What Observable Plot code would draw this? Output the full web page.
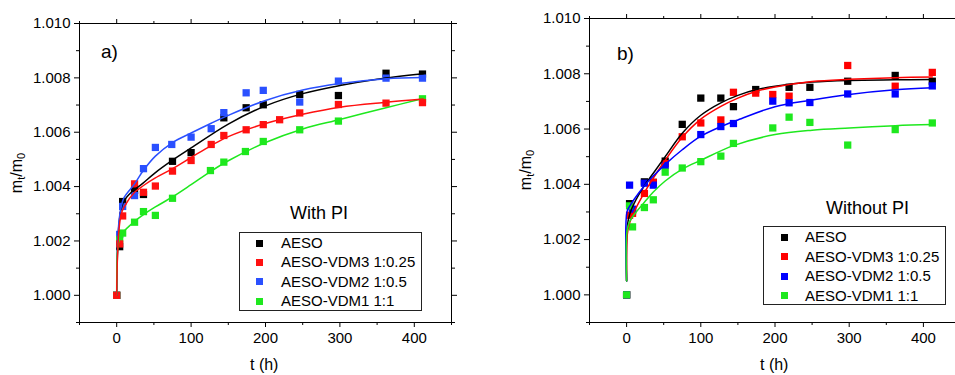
<!DOCTYPE html>
<html><head><meta charset="utf-8">
<script src="https://cdn.jsdelivr.net/npm/d3@7"></script>
<script src="https://cdn.jsdelivr.net/npm/@observablehq/plot@0.6"></script>
<style>
body{margin:0;width:955px;height:375px;overflow:hidden;position:relative;background:#fff;font-family:"Liberation Sans",Arial,sans-serif;color:#000;}
.panel{position:absolute;top:0;width:480px;height:375px;}
.t{position:absolute;white-space:nowrap;line-height:1;}
.ylab{position:absolute;white-space:nowrap;font-size:16px;transform:translate(-50%,-50%) rotate(-90deg);line-height:1;}
.ylab sub{font-size:11px;vertical-align:-3px;}
.legend{position:absolute;border:1px solid #222;box-sizing:border-box;background:#fff;}
.row{position:absolute;left:0;font-size:15px;line-height:1;white-space:nowrap;}
.sq{position:absolute;width:7px;height:7px;}
</style></head><body>
<div id="A" class="panel" style="left:0"></div>
<div id="B" class="panel" style="left:480px"></div>
<script>
// ---------- shared ----------
const seriesNames = ["AESO", "AESO-VDM3 1:0.25", "AESO-VDM2 1:0.5", "AESO-VDM1 1:1"];
const xMajor = [0, 100, 200, 300, 400];
const xMinor = [-50, 50, 150, 250, 350, 450];
const yMajor = [1.000, 1.002, 1.004, 1.006, 1.008, 1.010];
const yMinor = [0.999, 1.001, 1.003, 1.005, 1.007, 1.009];

// ---------- panel a) With PI : measured points ----------
const a_AESO_t = [0, 4, 8, 24, 36, 75, 100, 144, 174, 197, 246, 298, 362, 411];
const a_AESO_v = [1.00000, 1.00179, 1.00345, 1.00386, 1.00371, 1.00493, 1.00525, 1.00653, 1.00690, 1.00701, 1.00739, 1.00735, 1.00817, 1.00814];
const a_VDM3_t = [0, 4, 8, 24, 36, 52, 75, 100, 127, 144, 174, 197, 219, 246, 298, 362, 411];
const a_VDM3_v = [1.00000, 1.00189, 1.00292, 1.00410, 1.00379, 1.00402, 1.00457, 1.00496, 1.00555, 1.00588, 1.00609, 1.00628, 1.00646, 1.00671, 1.00702, 1.00707, 1.00709];
const a_VDM2_t = [0, 4, 8, 24, 36, 52, 74, 100, 127, 144, 174, 197, 246, 298, 362, 411];
const a_VDM2_v = [1.00000, 1.00224, 1.00327, 1.00367, 1.00466, 1.00544, 1.00555, 1.00582, 1.00613, 1.00672, 1.00745, 1.00754, 1.00711, 1.00788, 1.00799, 1.00799];
const a_VDM1_t = [0, 4, 8, 24, 36, 52, 75, 126, 144, 173, 197, 246, 298, 411];
const a_VDM1_v = [1.00000, 1.00205, 1.00229, 1.00269, 1.00308, 1.00294, 1.00357, 1.00459, 1.00490, 1.00529, 1.00566, 1.00609, 1.00641, 1.00723];

// ---------- panel a) fitted curves (read off the picture) ----------
const a_fit_AESO_t = [0, 1, 3, 6, 10, 20, 35, 50, 75, 100, 150, 200, 250, 300, 350, 412];
const a_fit_AESO_v = [1.0000, 1.00150, 1.00260, 1.00318, 1.00348, 1.00380, 1.00412, 1.00447, 1.00497, 1.00542, 1.00630, 1.00697, 1.00742, 1.00772, 1.00795, 1.00815];
const a_fit_VDM3_t = [0, 1, 3, 6, 10, 24, 36, 52, 75, 100, 127, 150, 200, 250, 300, 362, 412];
const a_fit_VDM3_v = [1.0000, 1.00140, 1.00240, 1.00298, 1.00325, 1.00379, 1.00404, 1.00432, 1.00466, 1.00507, 1.00551, 1.00584, 1.00632, 1.00666, 1.00692, 1.00710, 1.00722];
const a_fit_VDM2_t = [0, 1, 3, 6, 10, 24, 36, 52, 75, 100, 127, 150, 200, 250, 300, 362, 412];
const a_fit_VDM2_v = [1.0000, 1.00170, 1.00270, 1.00325, 1.00360, 1.00410, 1.00460, 1.00512, 1.00562, 1.00597, 1.00633, 1.00662, 1.00717, 1.00755, 1.00779, 1.00797, 1.00801];
const a_fit_VDM1_t = [0, 1, 3, 8, 24, 36, 52, 75, 100, 127, 150, 200, 250, 300, 362, 412];
const a_fit_VDM1_v = [1.0000, 1.00160, 1.00200, 1.00230, 1.00272, 1.00297, 1.00325, 1.00362, 1.00407, 1.00457, 1.00495, 1.00562, 1.00612, 1.00647, 1.00690, 1.00724];

// ---------- panel b) Without PI : measured points ----------
const b_AESO_t = [0, 4, 8, 24, 36, 52, 75, 100, 127, 144, 174, 219, 247, 298, 362, 412];
const b_AESO_v = [1.00000, 1.00330, 1.00305, 1.00409, 1.00407, 1.00484, 1.00617, 1.00712, 1.00712, 1.00681, 1.00743, 1.00751, 1.00751, 1.00773, 1.00794, 1.00773];
const b_VDM3_t = [0, 4, 8, 24, 36, 52, 75, 100, 127, 144, 174, 197, 219, 298, 362, 412];
const b_VDM3_v = [1.00000, 1.00288, 1.00295, 1.00367, 1.00407, 1.00475, 1.00572, 1.00622, 1.00633, 1.00733, 1.00730, 1.00725, 1.00719, 1.00830, 1.00755, 1.00805];
const b_VDM2_t = [0, 4, 8, 24, 36, 52, 100, 127, 144, 197, 219, 247, 298, 362, 412];
const b_VDM2_v = [1.00000, 1.00397, 1.00310, 1.00404, 1.00397, 1.00468, 1.00580, 1.00609, 1.00620, 1.00701, 1.00695, 1.00696, 1.00727, 1.00727, 1.00756];
const b_VDM1_t = [0, 4, 8, 24, 36, 52, 75, 100, 127, 144, 197, 219, 247, 298, 362, 412];
const b_VDM1_v = [1.00000, 1.00322, 1.00246, 1.00316, 1.00344, 1.00444, 1.00459, 1.00482, 1.00502, 1.00548, 1.00604, 1.00643, 1.00624, 1.00542, 1.00598, 1.00622];

// ---------- panel b) fitted curves (read off the picture) ----------
const b_fit_AESO_t = [0, 1, 4, 10, 24, 36, 52, 75, 100, 127, 150, 174, 200, 250, 300, 362, 412];
const b_fit_AESO_v = [1.0005, 1.00250, 1.00290, 1.00330, 1.00395, 1.00440, 1.00500, 1.00585, 1.00650, 1.00695, 1.00722, 1.00742, 1.00755, 1.00770, 1.00776, 1.00778, 1.00779];
const b_fit_VDM3_t = [0, 1, 4, 10, 24, 36, 52, 75, 100, 127, 150, 174, 200, 250, 300, 362, 412];
const b_fit_VDM3_v = [1.0005, 1.00220, 1.00260, 1.00300, 1.00370, 1.00422, 1.00487, 1.00570, 1.00636, 1.00682, 1.00712, 1.00736, 1.00752, 1.00772, 1.00780, 1.00786, 1.00788];
const b_fit_VDM2_t = [0, 0.5, 4, 10, 24, 36, 52, 75, 100, 127, 150, 200, 250, 300, 362, 412];
const b_fit_VDM2_v = [1.0005, 1.00300, 1.00320, 1.00345, 1.00395, 1.00430, 1.00472, 1.00525, 1.00574, 1.00609, 1.00633, 1.00681, 1.00705, 1.00725, 1.00742, 1.00749];
const b_fit_VDM1_t = [0, 0.5, 4, 10, 24, 36, 52, 75, 100, 144, 200, 250, 300, 362, 412];
const b_fit_VDM1_v = [1.0005, 1.00230, 1.00265, 1.00290, 1.00335, 1.00372, 1.00412, 1.00455, 1.00487, 1.00540, 1.00580, 1.00596, 1.00604, 1.00612, 1.00616];

// ---------- colours ----------
const colorsA = ["#000000", "#ff1010", "#2a50ff", "#1ee81e"];
const colorsB = ["#000000", "#ff0000", "#0000ff", "#1ee81e"];

function rows(ts, vs, s) { return ts.map((t, i) => ({t, v: vs[i], s})); }

function makePanel(cfg) {
  const pts = cfg.points.map(([ts, vs], i) => rows(ts, vs, seriesNames[i]));
  const fits = cfg.fits.map(([ts, vs], i) => rows(ts, vs, seriesNames[i]));
  const noLabel = () => "";
  const marks = [
    Plot.axisX({anchor: "bottom", ticks: xMajor, tickSize: 5, tickPadding: 5, tickFormat: d => String(d), label: null}),
    Plot.axisX({anchor: "bottom", ticks: xMinor, tickSize: 3, tickFormat: noLabel, label: null}),
    Plot.axisX({anchor: "top", ticks: xMajor, tickSize: 5, tickFormat: noLabel, label: null}),
    Plot.axisX({anchor: "top", ticks: xMinor, tickSize: 3, tickFormat: noLabel, label: null}),
    Plot.axisY({anchor: "left", ticks: yMajor, tickSize: 5, tickPadding: 4, tickFormat: d3.format(".3f"), label: null}),
    Plot.axisY({anchor: "left", ticks: yMinor, tickSize: 3, tickFormat: noLabel, label: null}),
    Plot.axisY({anchor: "right", ticks: yMajor, tickSize: 5, tickFormat: noLabel, label: null}),
    Plot.axisY({anchor: "right", ticks: yMinor, tickSize: 3, tickFormat: noLabel, label: null}),
    Plot.frame({stroke: "black", strokeWidth: 1})
  ];
  cfg.order.forEach(i => {
    marks.push(Plot.dot(pts[i], {x: "t", y: "v", symbol: "square", r: 4.1, fill: cfg.colors[i], stroke: "none"}));
  });
  cfg.order.forEach(i => {
    marks.push(Plot.line(fits[i], {x: "t", y: "v", stroke: cfg.colors[i], strokeWidth: 1.5, curve: "catmull-rom"}));
  });
  return Plot.plot({
    width: 480, height: 375,
    marginLeft: cfg.ml, marginRight: cfg.mr, marginTop: cfg.mt, marginBottom: cfg.mb,
    x: {domain: [-50, 450]},
    y: {domain: [0.999, 1.010]},
    style: {fontFamily: "'Liberation Sans', Arial, sans-serif", fontSize: "15px", color: "#000", background: "transparent", overflow: "visible"},
    marks
  });
}

function addText(host, html, left, top, size, cls) {
  const d = document.createElement("div");
  d.className = cls || "t";
  d.innerHTML = html;
  d.style.left = left + "px";
  d.style.top = top + "px";
  if (size) d.style.fontSize = size + "px";
  host.appendChild(d);
  return d;
}

function addLegend(host, box, colors) {
  const lg = document.createElement("div");
  lg.className = "legend";
  Object.assign(lg.style, {left: box.x + "px", top: box.y + "px", width: box.w + "px", height: box.h + "px"});
  seriesNames.forEach((name, i) => {
    const cy = box.row0 + i * box.dy;
    const sq = document.createElement("div");
    sq.className = "sq";
    Object.assign(sq.style, {left: (box.sqx - 3.5) + "px", top: (cy - 3.5) + "px", background: colors[i]});
    lg.appendChild(sq);
    const r = document.createElement("div");
    r.className = "row";
    r.textContent = name;
    Object.assign(r.style, {left: box.tx + "px", top: (cy - 8) + "px"});
    lg.appendChild(r);
  });
  host.appendChild(lg);
}

// ---------- panel A ----------
const A = document.getElementById("A");
A.appendChild(makePanel({
  ml: 79, mr: 29, mt: 23, mb: 53,
  colors: colorsA, order: [0, 2, 3, 1],
  points: [[a_AESO_t, a_AESO_v], [a_VDM3_t, a_VDM3_v], [a_VDM2_t, a_VDM2_v], [a_VDM1_t, a_VDM1_v]],
  fits: [[a_fit_AESO_t, a_fit_AESO_v], [a_fit_VDM3_t, a_fit_VDM3_v], [a_fit_VDM2_t, a_fit_VDM2_v], [a_fit_VDM1_t, a_fit_VDM1_v]]
}));
addText(A, "a)", 101, 42, 19);
addText(A, "With PI", 290, 204, 18);
addText(A, "t (h)", 250, 357, 16);
addText(A, "m<sub>t</sub>/m<sub>0</sub>", 18, 173, null, "ylab");
addLegend(A, {x: 239, y: 232, w: 183, h: 79, row0: 10, dy: 19.4, sqx: 19, tx: 41}, colorsA);

// ---------- panel B ----------
const B = document.getElementById("B");
B.appendChild(makePanel({
  ml: 109, mr: 0, mt: 18, mb: 53,
  colors: colorsB, order: [0, 1, 2, 3],
  points: [[b_AESO_t, b_AESO_v], [b_VDM3_t, b_VDM3_v], [b_VDM2_t, b_VDM2_v], [b_VDM1_t, b_VDM1_v]],
  fits: [[b_fit_AESO_t, b_fit_AESO_v], [b_fit_VDM3_t, b_fit_VDM3_v], [b_fit_VDM2_t, b_fit_VDM2_v], [b_fit_VDM1_t, b_fit_VDM1_v]]
}));
addText(B, "b)", 137, 44, 19);
addText(B, "Without PI", 346, 199, 18);
addText(B, "t (h)", 280, 357, 16);
addText(B, "m<sub>t</sub>/m<sub>0</sub>", 47, 170, null, "ylab");
addLegend(B, {x: 283, y: 226, w: 183, h: 79, row0: 10, dy: 19.5, sqx: 20, tx: 41}, colorsB);
</script>
</body></html>
